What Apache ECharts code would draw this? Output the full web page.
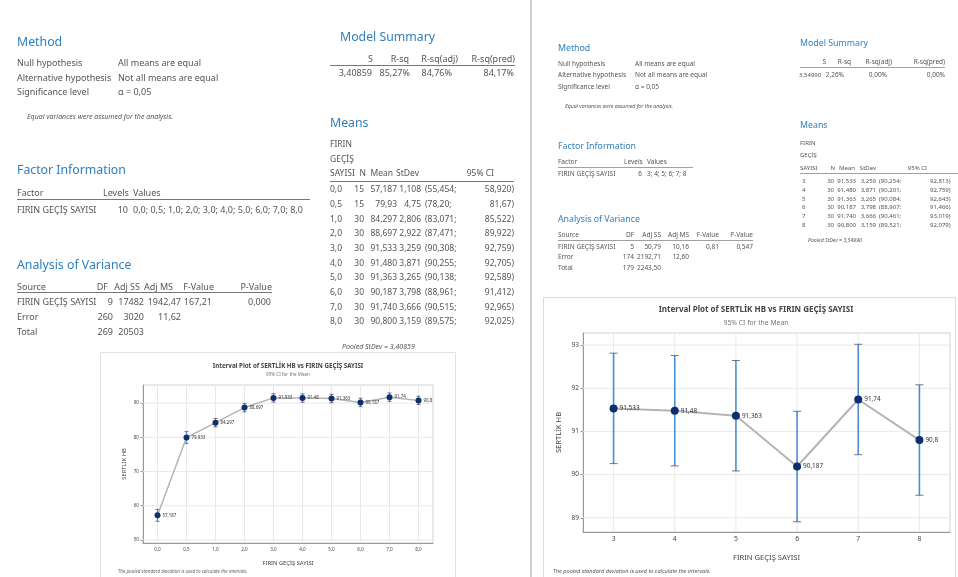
<!DOCTYPE html>
<html>
<head>
<meta charset="utf-8">
<script src="https://cdn.jsdelivr.net/npm/echarts@6/dist/echarts.min.js"></script>
<style>
  html, body { margin: 0; padding: 0; background: #fff; }
  #main { width: 958px; height: 577px; }
</style>
</head>
<body>
<div id="main"></div>
<script>
// left analysis: 10 levels of FIRIN GECIS SAYISI
const leftLevels = ['0,0', '0,5', '1,0', '2,0', '3,0', '4,0', '5,0', '6,0', '7,0', '8,0'];
const leftN = [15, 15, 30, 30, 30, 30, 30, 30, 30, 30];
const leftMean = [57.187, 79.933, 84.297, 88.697, 91.533, 91.480, 91.363, 90.187, 91.740, 90.800];
const leftStDev = [1.108, 4.75, 2.806, 2.922, 3.259, 3.871, 3.265, 3.798, 3.666, 3.159];
const leftLow = [55.454, 78.20, 83.071, 87.471, 90.308, 90.255, 90.138, 88.961, 90.515, 89.575];
const leftHigh = [58.920, 81.67, 85.522, 89.922, 92.759, 92.705, 92.589, 91.412, 92.965, 92.025];
const leftDec = [3, 2, 3, 3, 3, 3, 3, 3, 3, 3];
const leftTicks = [50, 60, 70, 80, 90];

// right analysis: levels 3..8
const rightLevels = ['3', '4', '5', '6', '7', '8'];
const rightN = [30, 30, 30, 30, 30, 30];
const rightMean = [91.533, 91.480, 91.363, 90.187, 91.740, 90.800];
const rightStDev = [3.259, 3.871, 3.265, 3.798, 3.666, 3.159];
const rightLow = [90.254, 90.201, 90.084, 88.907, 90.461, 89.521];
const rightHigh = [92.813, 92.759, 92.643, 91.466, 93.019, 92.079];
const rightTicks = [89, 90, 91, 92, 93];

const FONT = '"Noto Sans", "DejaVu Sans", sans-serif';
const BLUE = '#2f7fbf';
const GREY = '#555';

function fmt(v, d) { return v.toFixed(d).replace('.', ','); }
function short(v) { return String(+v.toFixed(3)).replace('.', ','); }

function T(x, y, text, size, o) {
  o = o || {};
  const font = (o.italic ? 'italic ' : '') + (o.weight || 'normal') + ' ' + size + 'px ' + FONT;
  return {
    type: 'text', x: x, y: y, silent: true,
    style: {
      text: text, font: font, fill: o.color || GREY,
      align: o.align || 'left', textAlign: o.align || 'left',
      verticalAlign: 'middle', textVerticalAlign: 'middle'
    }
  };
}
function L(x1, y1, x2, y2, color, w) {
  return { type: 'line', silent: true, shape: { x1: x1, y1: y1, x2: x2, y2: y2 },
    style: { stroke: color || '#888', lineWidth: w || 1 } };
}
function R(x, y, w, h, color) {
  return { type: 'rect', silent: true, shape: { x: x, y: y, width: w, height: h },
    style: { fill: 'none', stroke: color, lineWidth: 1 } };
}

let g = [];

// ---------- left panel tables ----------
const fs = 9;
const fm = 8.5;
const hs = 12.3;
g.push(T(17, 42, 'Method', hs, { color: BLUE }));
g.push(T(17, 63, 'Null hypothesis', fs), T(118, 63, 'All means are equal', fs));
g.push(T(17, 78, 'Alternative hypothesis', fs), T(118, 78, 'Not all means are equal', fs));
g.push(T(17, 92, 'Significance level', fs), T(118, 92, 'α = 0,05', fs));
g.push(T(27, 117, 'Equal variances were assumed for the analysis.', 7, { italic: true }));

g.push(T(17, 170, 'Factor Information', hs, { color: BLUE }));
g.push(T(17, 193, 'Factor', fs), T(103, 193, 'Levels', fs), T(133, 193, 'Values', fs));
g.push(L(17, 199.5, 310, 199.5, '#777'));
g.push(T(17, 210, 'FIRIN GEÇİŞ SAYISI', fs), T(128, 210, String(leftLevels.length), fs, { align: 'right' }),
  T(133, 210, leftLevels.join('; '), fs));

g.push(T(17, 265, 'Analysis of Variance', hs, { color: BLUE }));
const aovLh = [108, 140, 173, 214, 272];
const aovL = [113, 144, 181, 212, 271];
['DF', 'Adj SS', 'Adj MS', 'F-Value', 'P-Value'].forEach((h, i) => g.push(T(aovLh[i], 287, h, fs, { align: 'right' })));
g.push(T(17, 287, 'Source', fs), L(17, 292.5, 272, 292.5, '#777'));
[['FIRIN GEÇİŞ SAYISI', '9', '17482', '1942,47', '167,21', '0,000'],
 ['Error', '260', '3020', '11,62', '', ''],
 ['Total', '269', '20503', '', '', '']].forEach((row, r) => {
  const y = 302 + r * 15;
  g.push(T(17, y, row[0], fs));
  for (let i = 1; i < row.length; i++) if (row[i]) g.push(T(aovL[i - 1], y, row[i], fs, { align: 'right' }));
});

g.push(T(340, 37, 'Model Summary', hs, { color: BLUE }));
const msL = [373, 409, 458, 515];
['S', 'R-sq', 'R-sq(adj)', 'R-sq(pred)'].forEach((h, i) => g.push(T(msL[i], 59, h, fs, { align: 'right' })));
g.push(L(330, 65.5, 515, 65.5, '#777'));
const msLv = [372, 410, 452, 514];
['3,40859', '85,27%', '84,76%', '84,17%'].forEach((v, i) => g.push(T(msLv[i], 73, v, fs, { align: 'right' })));

g.push(T(330, 123, 'Means', hs, { color: BLUE }));
g.push(T(330, 145, 'FIRIN', fm), T(330, 160, 'GEÇİŞ', fm), T(330, 174, 'SAYISI', fm));
g.push(T(366, 174, 'N', fm, { align: 'right' }), T(393, 174, 'Mean', fm, { align: 'right' }),
  T(419, 174, 'StDev', fm, { align: 'right' }), T(494, 174, '95% CI', fm, { align: 'right' }));
g.push(L(330, 181.5, 514, 181.5, '#777'));
leftLevels.forEach((lv, i) => {
  const y = 190 + i * 14.65, d = leftDec[i];
  g.push(T(330, y, lv, fm));
  g.push(T(364, y, String(leftN[i]), fm, { align: 'right' }));
  g.push(T(397, y, fmt(leftMean[i], d), fm, { align: 'right' }));
  g.push(T(421, y, fmt(leftStDev[i], d), fm, { align: 'right' }));
  g.push(T(425, y, '(' + fmt(leftLow[i], d) + ';', fm));
  g.push(T(514, y, fmt(leftHigh[i], d) + ')', fm, { align: 'right' }));
});
g.push(T(342, 347, 'Pooled StDev = 3,40859', 7, { italic: true }));

// ---------- right panel tables ----------
const fr = 6.5;
const frm = 6;
const hr = 8.8;
g.push(T(558, 48, 'Method', hr, { color: BLUE }));
g.push(T(558, 64, 'Null hypothesis', fr), T(635, 64, 'All means are equal', fr));
g.push(T(558, 75.5, 'Alternative hypothesis', fr), T(635, 75.5, 'Not all means are equal', fr));
g.push(T(558, 87, 'Significance level', fr), T(635, 87, 'α = 0,05', fr));
g.push(T(565, 107, 'Equal variances were assumed for the analysis.', 5.2, { italic: true }));

g.push(T(558, 146, 'Factor Information', hr, { color: BLUE }));
g.push(T(558, 162, 'Factor', fr), T(624, 162, 'Levels', fr), T(647, 162, 'Values', fr));
g.push(L(558, 167.5, 693, 167.5, '#888', 0.8));
g.push(T(558, 174, 'FIRIN GEÇİŞ SAYISI', fr), T(642, 174, String(rightLevels.length), fr, { align: 'right' }),
  T(647, 174, rightLevels.join('; '), fr));

g.push(T(558, 219, 'Analysis of Variance', hr, { color: BLUE }));
const aovR = [634, 661, 689, 719, 753];
['DF', 'Adj SS', 'Adj MS', 'F-Value', 'P-Value'].forEach((h, i) => g.push(T(aovR[i], 235, h, fr, { align: 'right' })));
g.push(T(558, 235, 'Source', fr), L(558, 240.5, 753, 240.5, '#888', 0.8));
[['FIRIN GEÇİŞ SAYISI', '5', '50,79', '10,16', '0,81', '0,547'],
 ['Error', '174', '2192,71', '12,60', '', ''],
 ['Total', '179', '2243,50', '', '', '']].forEach((row, r) => {
  const y = 247 + r * 10.5;
  g.push(T(558, y, row[0], fr));
  for (let i = 1; i < row.length; i++) if (row[i]) g.push(T(aovR[i - 1], y, row[i], fr, { align: 'right' }));
});

g.push(T(800, 43, 'Model Summary', hr, { color: BLUE }));
const msR = [826, 851, 892, 945];
['S', 'R-sq', 'R-sq(adj)', 'R-sq(pred)'].forEach((h, i) => g.push(T(msR[i], 62, h, fr, { align: 'right' })));
g.push(L(800, 67.5, 945, 67.5, '#888', 0.8));
g.push(T(799, 75, '3,54990', frm));
const msRv = [844, 887, 945];
['2,26%', '0,00%', '0,00%'].forEach((v, i) => g.push(T(msRv[i], 75, v, fr, { align: 'right' })));

g.push(T(800, 125, 'Means', hr, { color: BLUE }));
g.push(T(800, 143, 'FIRIN', frm), T(800, 155, 'GEÇİŞ', frm), T(800, 168, 'SAYISI', frm));
g.push(T(835, 168, 'N', frm, { align: 'right' }), T(855, 168, 'Mean', frm, { align: 'right' }),
  T(876, 168, 'StDev', frm, { align: 'right' }), T(927, 168, '95% CI', frm, { align: 'right' }));
g.push(L(800, 173.5, 958, 173.5, '#888', 0.8));
rightLevels.forEach((lv, i) => {
  const y = 181 + i * 8.9;
  g.push(T(802, y, lv, frm));
  g.push(T(834, y, String(rightN[i]), frm, { align: 'right' }));
  g.push(T(856, y, fmt(rightMean[i], 3), frm, { align: 'right' }));
  g.push(T(876, y, fmt(rightStDev[i], 3), frm, { align: 'right' }));
  g.push(T(879, y, '(' + fmt(rightLow[i], 3) + ';', frm));
  g.push(T(930, y, fmt(rightHigh[i], 3) + ')', frm));
});
g.push(T(808, 241, 'Pooled StDev = 3,54990', 5.2, { italic: true }));

// ---------- frames, divider, chart titles ----------
g.push(L(531, 0, 531, 577, '#cfcfcf', 2));
g.push(R(100.5, 352.5, 355, 230, '#e2e2e2'));
g.push(R(543.5, 297.5, 412, 285, '#dcdcdc'));

g.push(T(288, 366, 'Interval Plot of SERTLİK HB vs FIRIN GEÇİŞ SAYISI', 6.2, { weight: 'bold', color: '#444', align: 'center' }));
g.push(T(288, 375, '95% CI for the Mean', 4.6, { color: '#777', align: 'center' }));
g.push(T(118, 572, 'The pooled standard deviation is used to calculate the intervals.', 4.6, { italic: true, color: '#666' }));

g.push(T(756, 310, 'Interval Plot of SERTLİK HB vs FIRIN GEÇİŞ SAYISI', 8, { weight: 'bold', color: '#444', align: 'center' }));
g.push(T(756, 323, '95% CI for the Mean', 6.8, { color: '#777', align: 'center' }));
g.push(T(553, 571, 'The pooled standard deviation is used to calculate the intervals.', 5.6, { italic: true, color: '#555' }));

// ---------- chart series ----------
// light reference grid: one vertical line per level, horizontal lines at the ticks
function gridLines(gi, levels, ticks) {
  return {
    type: 'custom', xAxisIndex: gi, yAxisIndex: gi, z: 1, silent: true,
    data: levels.map((l, i) => [i]),
    renderItem: function (params, api) {
      const cs = params.coordSys;
      const x = api.coord([api.value(0), ticks[0]])[0];
      const st = { stroke: '#e9e9e9', lineWidth: 1 };
      const kids = [{ type: 'line', shape: { x1: x, y1: cs.y, x2: x, y2: cs.y + cs.height }, style: st }];
      if (params.dataIndex === 0) {
        ticks.forEach(t => {
          const y = api.coord([0, t])[1];
          kids.push({ type: 'line', shape: { x1: cs.x, y1: y, x2: cs.x + cs.width, y2: y }, style: st });
        });
      }
      return { type: 'group', children: kids };
    }
  };
}
function errorBars(gi, low, high, cap, lw) {
  return {
    type: 'custom', xAxisIndex: gi, yAxisIndex: gi, z: 3, silent: true,
    data: low.map((v, i) => [i, v, high[i]]),
    renderItem: function (params, api) {
      const a = api.coord([api.value(0), api.value(1)]);
      const b = api.coord([api.value(0), api.value(2)]);
      return { type: 'group', children: [
        { type: 'line', shape: { x1: a[0], y1: a[1], x2: b[0], y2: b[1] }, style: { stroke: '#4a8fd3', lineWidth: lw } },
        { type: 'line', shape: { x1: a[0] - cap, y1: a[1], x2: a[0] + cap, y2: a[1] }, style: { stroke: '#555', lineWidth: 0.8 } },
        { type: 'line', shape: { x1: b[0] - cap, y1: b[1], x2: b[0] + cap, y2: b[1] }, style: { stroke: '#555', lineWidth: 0.8 } }
      ] };
    }
  };
}
function meanLine(gi, mean, size, labelSize) {
  return {
    type: 'line', xAxisIndex: gi, yAxisIndex: gi, z: 4, silent: true, data: mean,
    symbol: 'circle', symbolSize: size,
    itemStyle: { color: '#0d2f6e' },
    lineStyle: { color: '#b4b4b4', width: gi === 0 ? 1.5 : 2 },
    label: { show: true, position: 'right', distance: 2, fontSize: labelSize, fontFamily: FONT, color: '#333',
      formatter: p => short(p.value) }
  };
}
function xAx(gi, data, fsz, gap, nameSize) {
  return {
    type: 'category', gridIndex: gi, data: data, boundaryGap: true,
    axisLine: { lineStyle: { color: '#999' } },
    axisTick: { alignWithLabel: true, length: 2.5, lineStyle: { color: '#999' } },
    axisLabel: { fontSize: fsz, color: '#444', fontFamily: FONT, margin: 4 },
    splitLine: { show: false },
    name: 'FIRIN GEÇİŞ SAYISI', nameLocation: 'middle', nameGap: gap,
    nameTextStyle: { fontSize: nameSize, color: '#444', fontFamily: FONT }
  };
}
function yAx(gi, min, max, ticks, fsz, gap, nameSize) {
  return {
    type: 'value', gridIndex: gi, min: min, max: max,
    axisLine: { show: true, lineStyle: { color: '#999' } },
    axisTick: { show: true, length: 2.5, customValues: ticks, lineStyle: { color: '#999' } },
    axisLabel: { fontSize: fsz, color: '#444', fontFamily: FONT, margin: 4, customValues: ticks },
    splitLine: { show: false },
    name: 'SERTLİK HB', nameLocation: 'middle', nameGap: gap,
    nameTextStyle: { fontSize: nameSize, color: '#444', fontFamily: FONT }
  };
}

let options = {
  animation: false,
  backgroundColor: '#fff',
  textStyle: { fontFamily: FONT },
  grid: [
    { left: 143, top: 385, width: 290, height: 158, show: true, borderColor: '#d0d0d0', borderWidth: 1 },
    { left: 583, top: 333, width: 367, height: 199, show: true, borderColor: '#d0d0d0', borderWidth: 1 }
  ],
  xAxis: [xAx(0, leftLevels, 4.6, 17, 5.8), xAx(1, rightLevels, 6.8, 22, 7.6)],
  yAxis: [yAx(0, 49.1, 95.3, leftTicks, 4.6, 16, 5.8), yAx(1, 88.67, 93.28, rightTicks, 6.5, 20, 7.6)],
  series: [
    gridLines(0, leftLevels, leftTicks),
    errorBars(0, leftLow, leftHigh, 2, 1.2),
    meanLine(0, leftMean, 6, 4.4),
    gridLines(1, rightLevels, rightTicks),
    errorBars(1, rightLow, rightHigh, 4, 1.6),
    meanLine(1, rightMean, 8, 6.4)
  ],
  graphic: { elements: g }
};

let myChart = echarts.init(document.getElementById('main'));
myChart.setOption(options);
</script>
</body>
</html>
